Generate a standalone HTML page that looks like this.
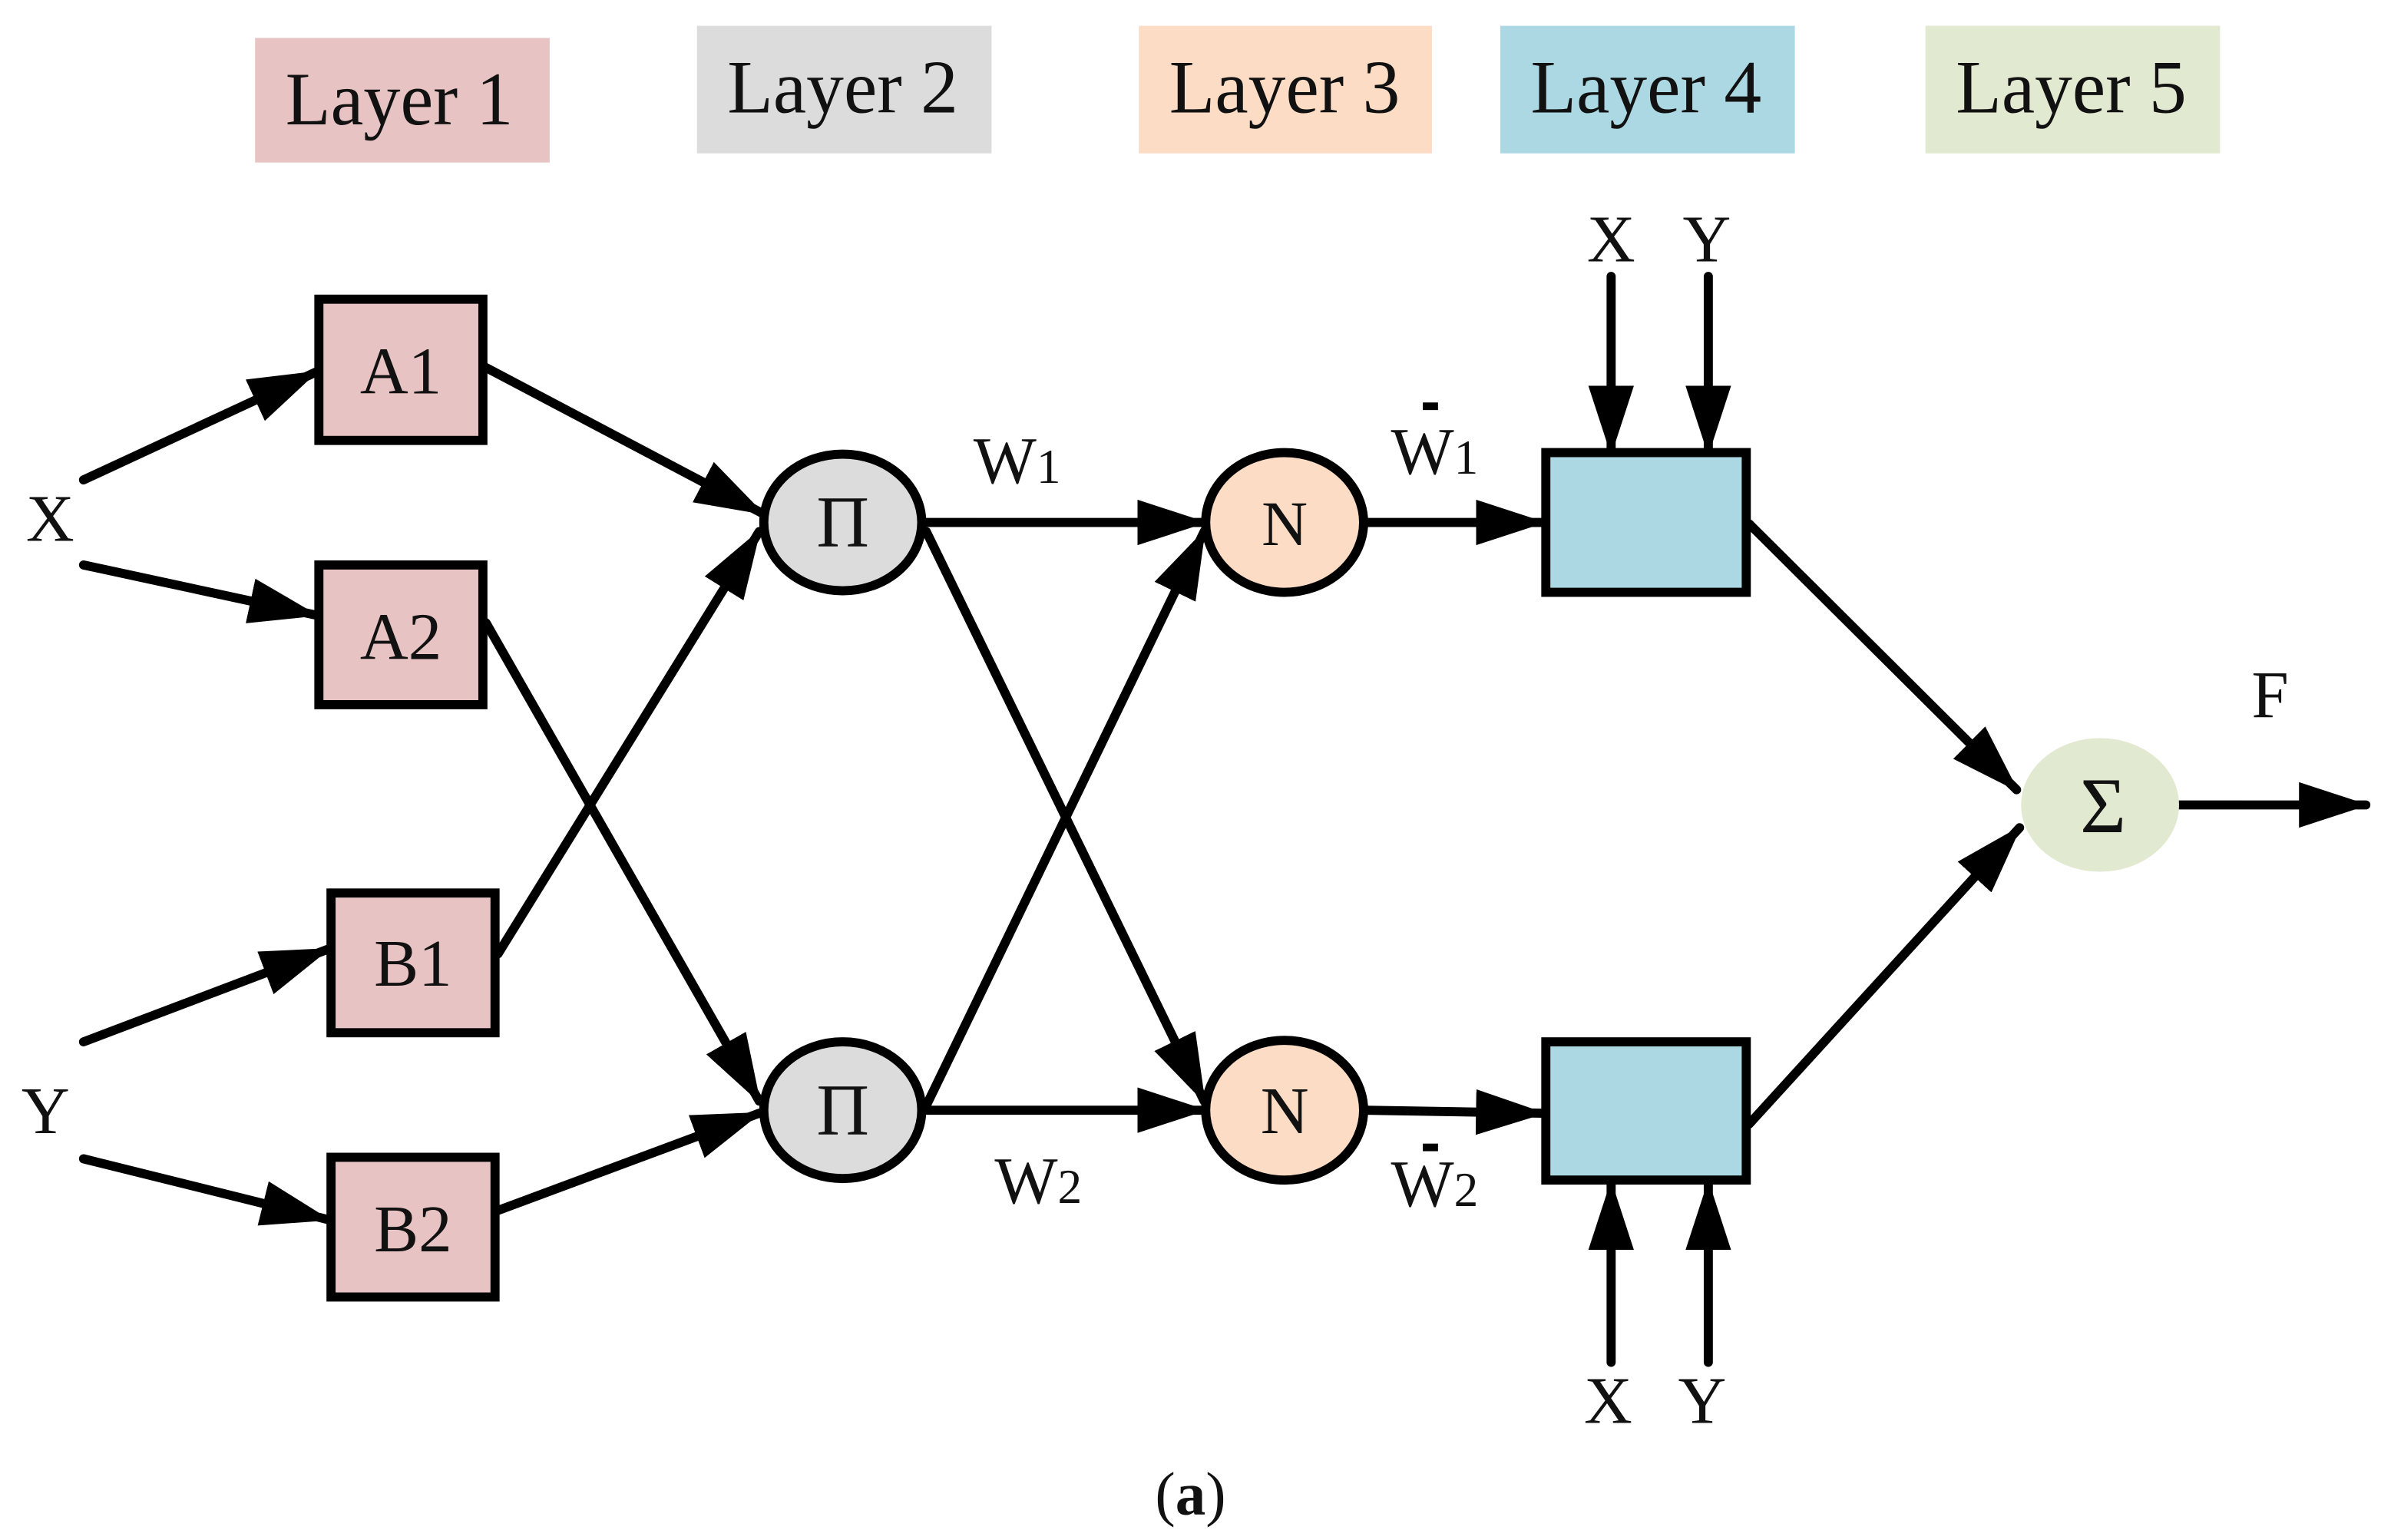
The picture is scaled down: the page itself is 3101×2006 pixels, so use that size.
<!DOCTYPE html>
<html><head><meta charset="utf-8"><style>
html,body{margin:0;padding:0;background:#fff;}
svg{display:block;}
text{font-family:"Liberation Serif",serif;fill:#111;}
</style></head><body>
<svg width="3101" height="2006" viewBox="0 0 1568 1014" preserveAspectRatio="none" xmlns="http://www.w3.org/2000/svg">
<defs>
<marker id="ah" markerUnits="userSpaceOnUse" markerWidth="46" markerHeight="30" refX="44" refY="15" orient="auto">
<path d="M0,0 L46,15 L0,30 z" fill="#000"/>
</marker>
</defs>
<rect width="1568" height="1014" fill="#fff"/>
<rect x="168" y="25" width="194" height="82" fill="#e8c3c3"/>
<rect x="459" y="17" width="194" height="84" fill="#dcdcdc"/>
<rect x="750" y="17" width="193" height="84" fill="#fcdcc5"/>
<rect x="988" y="17" width="194" height="84" fill="#acd8e4"/>
<rect x="1268" y="17" width="194" height="84" fill="#e1e9d0"/>
<g font-size="50">
<text x="188" y="82" textLength="150" lengthAdjust="spacingAndGlyphs">Layer 1</text>
<text x="479" y="74" textLength="152" lengthAdjust="spacingAndGlyphs">Layer 2</text>
<text x="770" y="74" textLength="152" lengthAdjust="spacingAndGlyphs">Layer 3</text>
<text x="1008" y="74" textLength="152" lengthAdjust="spacingAndGlyphs">Layer 4</text>
<text x="1288" y="74" textLength="152" lengthAdjust="spacingAndGlyphs">Layer 5</text>
</g>
<g stroke="#000" stroke-width="6" stroke-linecap="round" fill="none" marker-end="url(#ah)">
<line x1="55" y1="316" x2="208" y2="245"/>
<line x1="55" y1="372" x2="208" y2="405"/>
<line x1="320" y1="242" x2="502" y2="338"/>
<line x1="320" y1="410" x2="500" y2="725"/>
<line x1="328" y1="628" x2="500" y2="350"/>
<line x1="328" y1="797" x2="500" y2="733"/>
<line x1="55" y1="686" x2="216" y2="625"/>
<line x1="55" y1="763" x2="216" y2="803"/>
<line x1="610" y1="344" x2="793" y2="344"/>
<line x1="610" y1="350" x2="793" y2="725"/>
<line x1="610" y1="728" x2="793" y2="350"/>
<line x1="610" y1="731" x2="793" y2="731"/>
<line x1="900" y1="344" x2="1016" y2="344"/>
<line x1="900" y1="731" x2="1016" y2="733"/>
<line x1="1152" y1="345" x2="1328" y2="520"/>
<line x1="1152" y1="740" x2="1330" y2="545"/>
<line x1="1435" y1="530" x2="1558" y2="530"/>
<line x1="1061" y1="182" x2="1061" y2="298"/>
<line x1="1125" y1="182" x2="1125" y2="298"/>
<line x1="1061" y1="897" x2="1061" y2="779"/>
<line x1="1125" y1="897" x2="1125" y2="779"/>
</g>
<g stroke="#000" stroke-width="6">
<rect x="210" y="197" width="108" height="93" fill="#e8c3c3"/>
<rect x="210" y="372" width="108" height="92" fill="#e8c3c3"/>
<rect x="218" y="588" width="108" height="92" fill="#e8c3c3"/>
<rect x="218" y="762" width="108" height="92" fill="#e8c3c3"/>
<ellipse cx="555" cy="344" rx="52" ry="45" fill="#dcdcdc"/>
<ellipse cx="555" cy="731" rx="52" ry="45" fill="#dcdcdc"/>
<ellipse cx="846" cy="344" rx="52" ry="46" fill="#fcdcc5"/>
<ellipse cx="846" cy="731" rx="52" ry="46" fill="#fcdcc5"/>
<rect x="1018" y="298" width="132" height="92" fill="#acd8e4"/>
<rect x="1018" y="686" width="132" height="91" fill="#acd8e4"/>
</g>
<ellipse cx="1383" cy="530" rx="52" ry="44" fill="#e1e9d0"/>
<g font-size="44" text-anchor="middle">
<text x="264" y="259">A1</text>
<text x="264" y="434">A2</text>
<text x="272" y="649">B1</text>
<text x="272" y="824">B2</text>
<text x="555" y="360" font-size="48">Π</text>
<text x="555" y="747" font-size="48">Π</text>
<text x="846" y="359" font-family="Liberation Sans,sans-serif" font-size="42">N</text>
<text x="846" y="746">N</text>
<text x="1385" y="548" font-size="52">Σ</text>
<text x="33" y="356">X</text>
<text x="30" y="746">Y</text>
<text x="1061" y="172">X</text>
<text x="1124" y="172">Y</text>
<text x="1059" y="937">X</text>
<text x="1121" y="937">Y</text>
<text x="1495" y="472">F</text>
</g>
<g font-size="44">
<text x="641" y="318">W<tspan font-size="32">1</tspan></text>
<text x="655" y="792">W<tspan font-size="32">2</tspan></text>
<text x="916" y="312">W<tspan font-size="32">1</tspan></text>
<text x="916" y="794">W<tspan font-size="32">2</tspan></text>
</g>
<rect x="937" y="265" width="10" height="5" fill="#000"/>
<rect x="937" y="753" width="10" height="5" fill="#000"/>
<text x="784" y="997" font-size="40" text-anchor="middle">(<tspan font-weight="bold">a</tspan>)</text>
</svg>
</body></html>
